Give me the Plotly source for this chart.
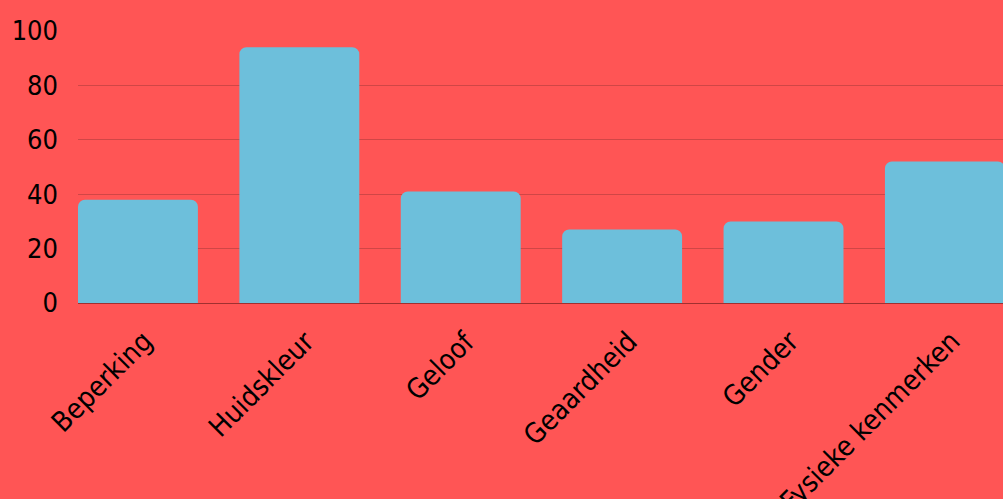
import plotly.graph_objects as go

categories = ["Beperking", "Huidskleur", "Geloof", "Geaardheid", "Gender", "Fysieke kenmerken"]
values = [38, 94, 41, 27, 30, 52]
y_ticks = [0, 20, 40, 60, 80, 100]

BG = "#FF5555"
BAR = "#6DBFDB"
GRID = "#D04646"
FONT = "DejaVu Sans Condensed, Roboto, sans-serif"

fig = go.Figure(go.Bar(
    x=categories, y=values,
    marker=dict(color=BAR, line=dict(width=0)),
    width=0.743,
))
for c in categories:
    fig.add_annotation(x=c, y=0, xref="x", yref="paper", text=c, showarrow=False,
                       textangle=-45, xanchor="right", yanchor="top",
                       xshift=24, yshift=-19, font=dict(size=28, color="#000000"))
fig.update_layout(
    width=1003, height=499,
    paper_bgcolor=BG, plot_bgcolor=BG,
    margin=dict(l=78, r=0, t=31, b=196, autoexpand=False),
    barcornerradius=7,
    showlegend=False,
    font=dict(family=FONT, size=27, color="#000000"),
    xaxis=dict(range=[-0.3715, 5.36], showgrid=False, automargin=False,
               ticks="", showticklabels=False),
    yaxis=dict(range=[0, 100], tickvals=y_ticks, showgrid=True, gridcolor=GRID, automargin=False,
               gridwidth=1, zeroline=True, zerolinecolor="#A03030", zerolinewidth=1,
               ticks="", tickfont=dict(size=27), ticklabelstandoff=19),
)
fig.write_html("out.html", config={"displayModeBar": False},
               post_script="document.body.style.margin='0';document.body.style.padding='0';document.body.style.background='#FF5555';")
